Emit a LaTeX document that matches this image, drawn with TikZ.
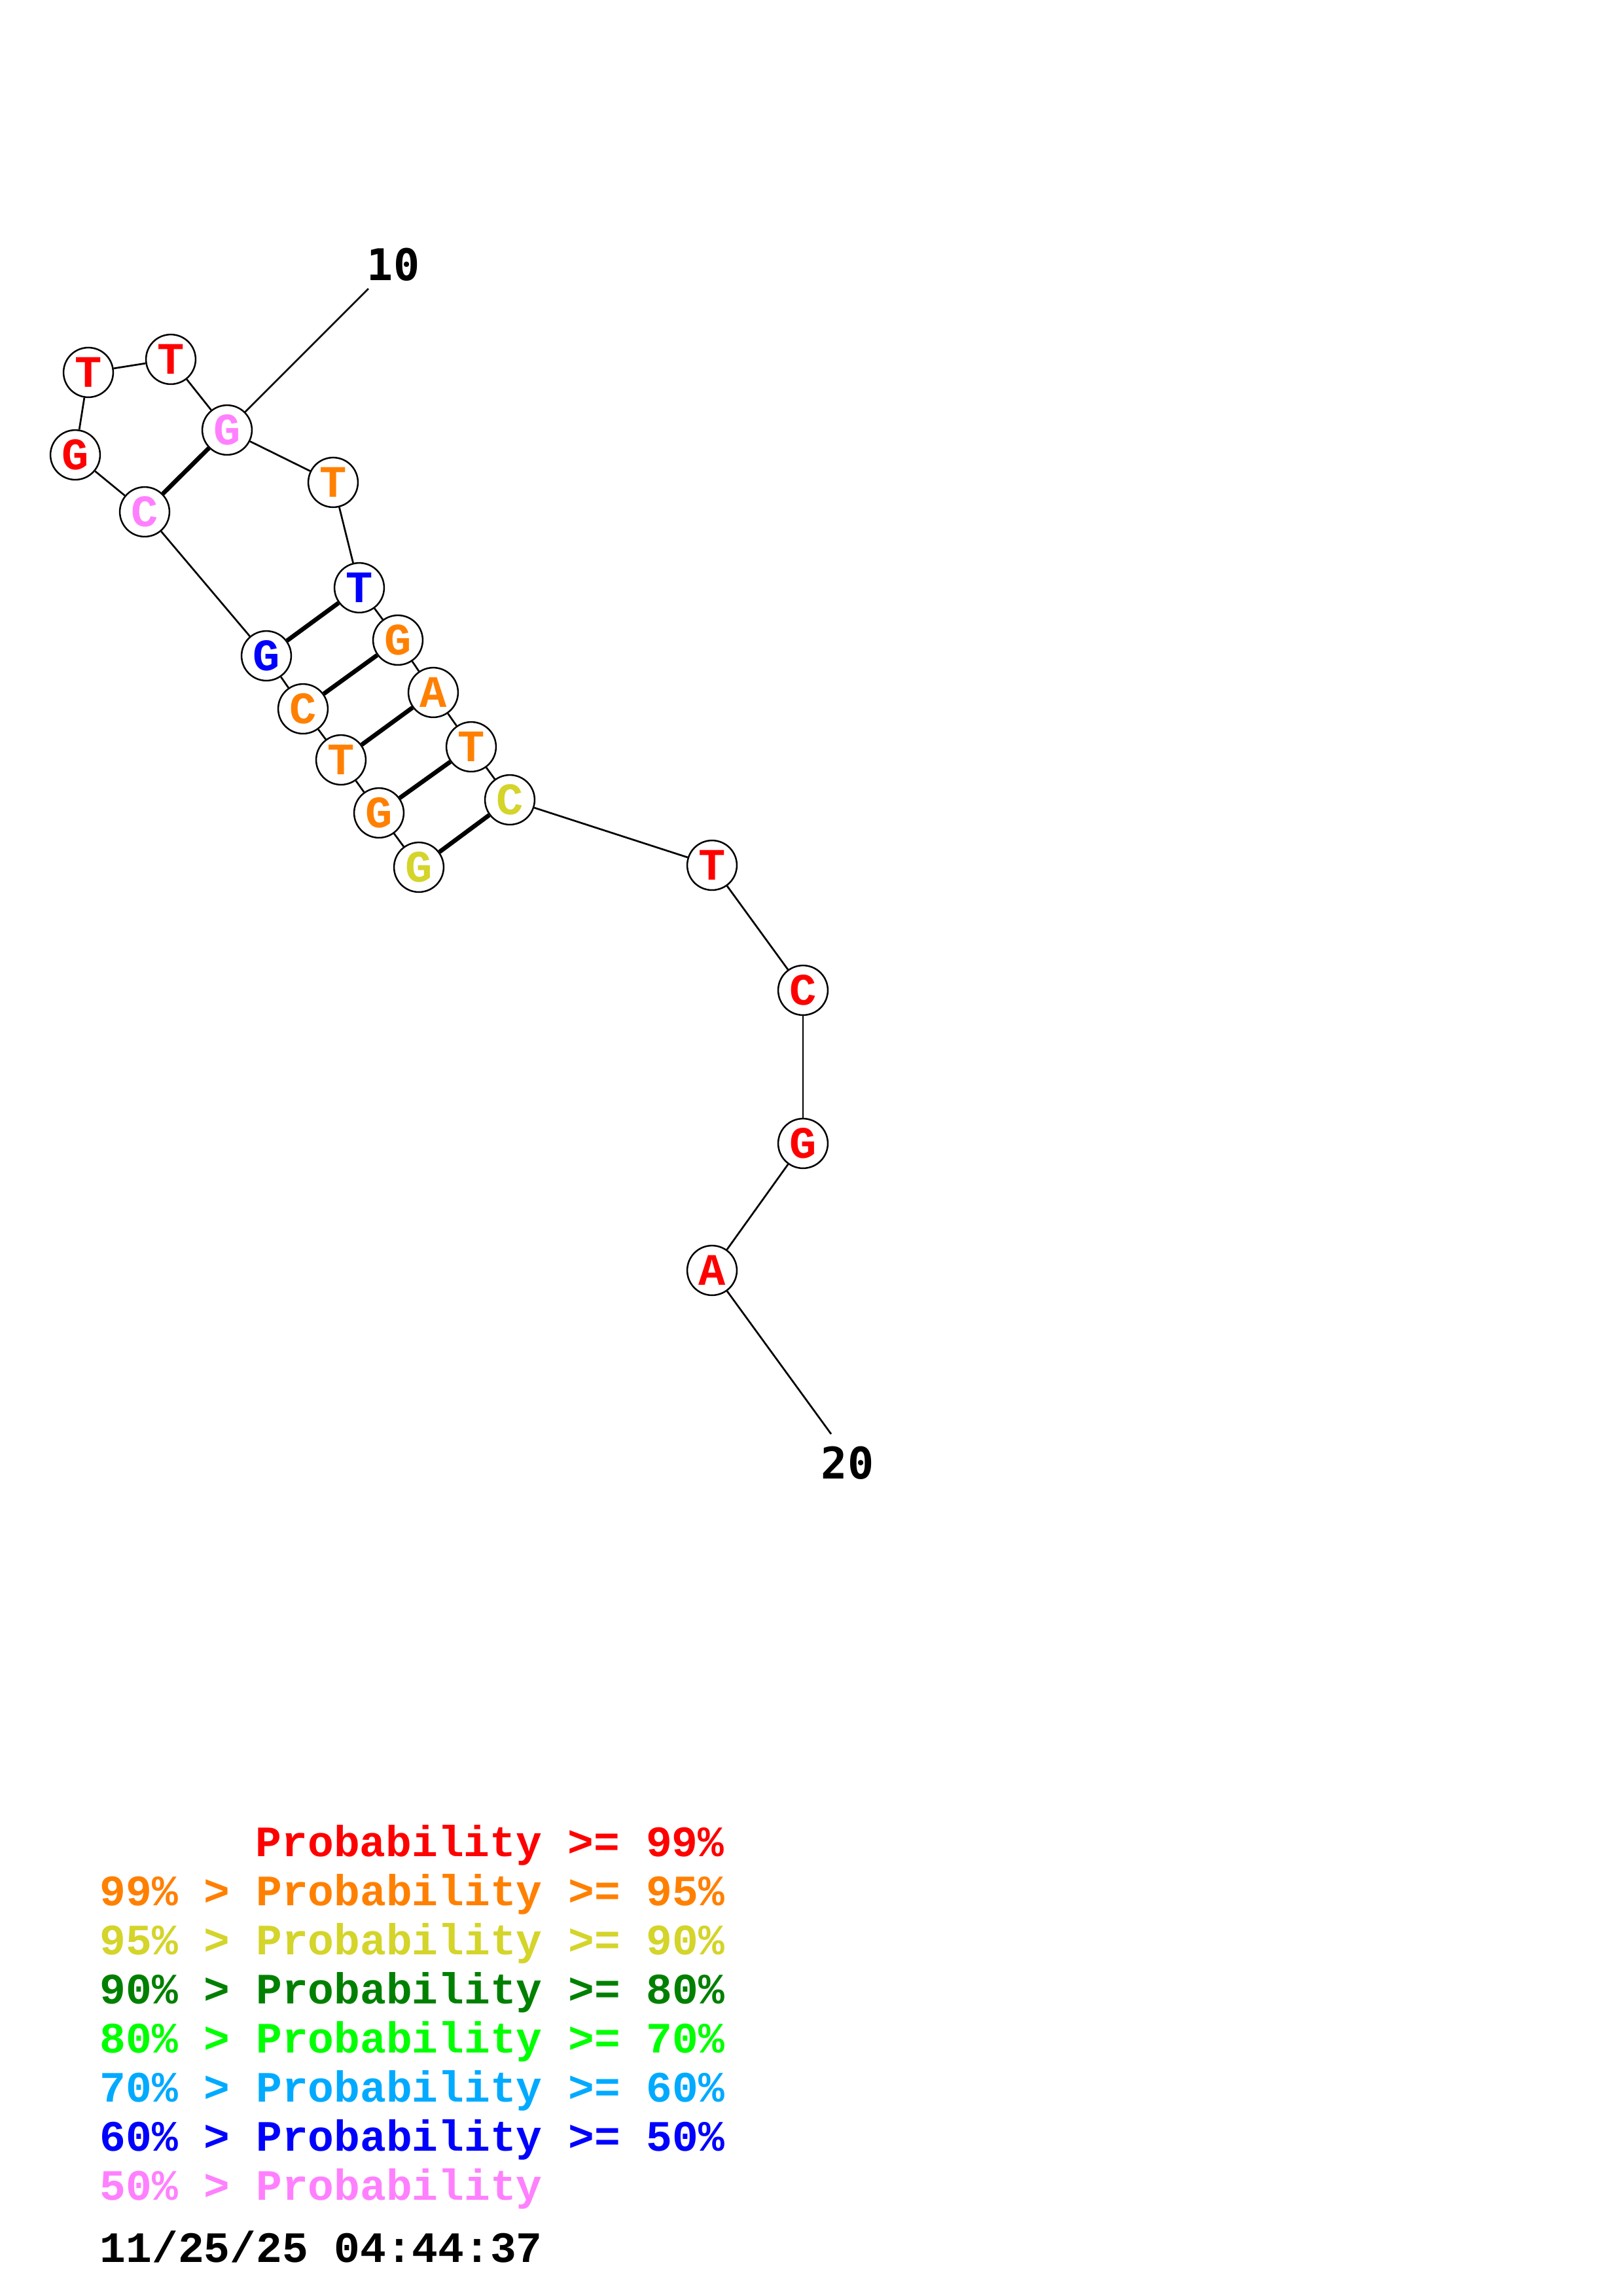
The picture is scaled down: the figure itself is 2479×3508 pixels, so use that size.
\documentclass[tikz,border=0pt]{standalone}
\usepackage{fontspec}
\setmonofont{Liberation Mono}
\newfontfamily\numfont{DejaVu Sans Mono}
\definecolor{pr99}{RGB}{255,0,0}
\definecolor{pr95}{RGB}{255,128,0}
\definecolor{pr90}{RGB}{212,212,42}
\definecolor{pr80}{RGB}{0,128,0}
\definecolor{pr70}{RGB}{0,255,0}
\definecolor{pr60}{RGB}{0,170,255}
\definecolor{pr50}{RGB}{0,0,255}
\definecolor{prlow}{RGB}{255,128,255}
\begin{document}
\begin{tikzpicture}[x=0.24bp,y=-0.24bp,
  nt/.style={circle,draw=black,line width=0.6bp,fill=white,minimum size=18.2bp,inner sep=0pt,
    font=\fontsize{16.5bp}{16.5bp}\selectfont\ttfamily\bfseries},
  bb/.style={line width=0.65bp,draw=black},
  bp/.style={line width=1.6bp,draw=black},
  lg/.style={anchor=base west,inner sep=0pt,font=\fontsize{15.9bp}{15.9bp}\selectfont\ttfamily\bfseries},
  lab/.style={inner sep=0pt,font=\fontsize{16bp}{16bp}\selectfont\numfont\bfseries}]
\useasboundingbox (0,0) rectangle (2479,3508);
\fill[white] (0,0) rectangle (2479,3508);
% nucleotides
\node[nt,text=pr90]  (n1)  at (640,1325) {G};
\node[nt,text=pr95]  (n2)  at (579,1242) {G};
\node[nt,text=pr95]  (n3)  at (521,1161) {T};
\node[nt,text=pr95]  (n4)  at (463,1083) {C};
\node[nt,text=pr50]  (n5)  at (407,1002) {G};
\node[nt,text=prlow] (n6)  at (221,782)  {C};
\node[nt,text=pr99]  (n7)  at (115,695)  {G};
\node[nt,text=pr99]  (n8)  at (135,569)  {T};
\node[nt,text=pr99]  (n9)  at (261,549)  {T};
\node[nt,text=prlow] (n10) at (347,657)  {G};
\node[nt,text=pr95]  (n11) at (509,737)  {T};
\node[nt,text=pr50]  (n12) at (549,898)  {T};
\node[nt,text=pr95]  (n13) at (608,978)  {G};
\node[nt,text=pr95]  (n14) at (662,1058) {A};
\node[nt,text=pr95]  (n15) at (720,1141) {T};
\node[nt,text=pr90]  (n16) at (779,1222) {C};
\node[nt,text=pr99]  (n17) at (1088,1322) {T};
\node[nt,text=pr99]  (n18) at (1227,1513) {C};
\node[nt,text=pr99]  (n19) at (1227,1747) {G};
\node[nt,text=pr99]  (n20) at (1088,1941) {A};
% backbone
\draw[bb] (n1)--(n2); \draw[bb] (n2)--(n3); \draw[bb] (n3)--(n4); \draw[bb] (n4)--(n5);
\draw[bb] (n5)--(n6); \draw[bb] (n6)--(n7); \draw[bb] (n7)--(n8); \draw[bb] (n8)--(n9);
\draw[bb] (n9)--(n10); \draw[bb] (n10)--(n11); \draw[bb] (n11)--(n12); \draw[bb] (n12)--(n13);
\draw[bb] (n13)--(n14); \draw[bb] (n14)--(n15); \draw[bb] (n15)--(n16); \draw[bb] (n16)--(n17);
\draw[bb] (n17)--(n18); \draw[bb] (n18)--(n19); \draw[bb] (n19)--(n20);
% pairs
\draw[bp] (n1)--(n16); \draw[bp] (n2)--(n15); \draw[bp] (n3)--(n14);
\draw[bp] (n4)--(n13); \draw[bp] (n5)--(n12); \draw[bp] (n6)--(n10);
% position labels
\coordinate (t10) at (563,441);
\coordinate (t20) at (1270,2191);
\draw[bb] (n10)--(t10);
\draw[bb] (n20)--(t20);
\node[lab] (l10) at (601,404) {10};
\node[lab] (l20) at (1295,2235) {20};
% legend
\node[lg,text=pr99]  (g1) at (390,2836) {Probability >= 99\%};
\node[lg,text=pr95]  (g2) at (152,2911) {99\% > Probability >= 95\%};
\node[lg,text=pr90]  (g3) at (152,2986) {95\% > Probability >= 90\%};
\node[lg,text=pr80]  (g4) at (152,3061) {90\% > Probability >= 80\%};
\node[lg,text=pr70]  (g5) at (152,3136) {80\% > Probability >= 70\%};
\node[lg,text=pr60]  (g6) at (152,3211) {70\% > Probability >= 60\%};
\node[lg,text=pr50]  (g7) at (152,3286) {60\% > Probability >= 50\%};
\node[lg,text=prlow] (g8) at (152,3361) {50\% > Probability};
\node[lg,text=black] (g9) at (152,3456) {11/25/25 04:44:37};
\end{tikzpicture}
\end{document}
